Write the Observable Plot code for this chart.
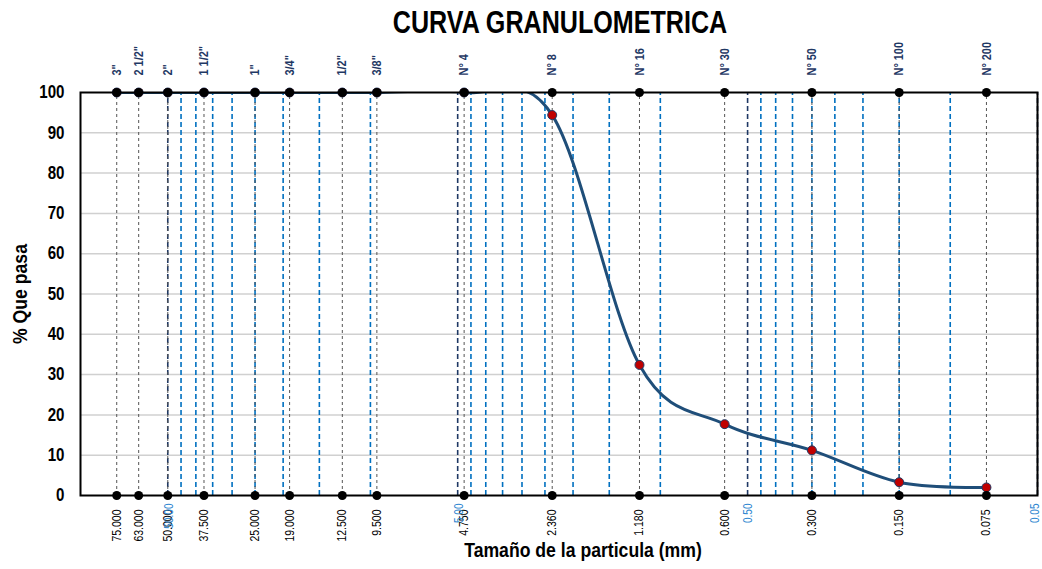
<!DOCTYPE html>
<html>
<head>
<meta charset="utf-8">
<script src="https://cdn.jsdelivr.net/npm/d3@7"></script>
<script src="https://cdn.jsdelivr.net/npm/@observablehq/plot@0.6"></script>
<style>
  html, body { margin: 0; padding: 0; background: #fff; }
  #wrap { position: relative; width: 1042px; height: 569px; }
  #title { position: absolute; left: 0; width: 1120px; top: 5px; text-align: center;
    font-family: "Liberation Sans", Arial, sans-serif;
    font-weight: bold; font-size: 31px; color: #000; transform: scaleX(0.81); transform-origin: 560px 0; }
  svg { position: absolute; left: 0; top: 0; }
</style>
</head>
<body>
<div id="wrap">
  <div id="title">CURVA GRANULOMETRICA</div>
</div>
<script>
// Sieves
const sieveNames = ['3"', '2 1/2"', '2"', '1 1/2"', '1"', '3/4"', '1/2"', '3/8"', "N° 4", "N° 8", "N° 16", "N° 30", "N° 50", "N° 100", "N° 200"];
const sieveSizes = [75, 63, 50, 37.5, 25, 19, 12.5, 9.5, 4.75, 2.36, 1.18, 0.6, 0.3, 0.15, 0.075];
const sizeLabels = ["75.000", "63.000", "50.000", "37.500", "25.000", "19.000", "12.500", "9.500", "4.750", "2.360", "1.180", "0.600", "0.300", "0.150", "0.075"];
const percentPassing = [100, 100, 100, 100, 100, 100, 100, 100, 100, 94.4, 32.4, 17.7, 11.2, 3.3, 2.0];

// Log grid
const majorValues = [50, 5, 0.5, 0.05];
const majorLabels = ["50.00", "5.00", "0.50", "0.05"];
const minorValues = [45, 40, 35, 30, 25, 20, 15, 10, 4.5, 4, 3.5, 3, 2.5, 2, 1.5, 1, 0.45, 0.4, 0.35, 0.3, 0.25, 0.2, 0.15, 0.1];
const yTicks = [0, 10, 20, 30, 40, 50, 60, 70, 80, 90, 100];
const yGrid = [10, 20, 30, 40, 50, 60, 70, 80, 90];

const xDomain = [100, 0.05];
const yDomain = [0, 100];

const sieves = sieveSizes.map((s, i) => ({size: s, name: sieveNames[i], label: sizeLabels[i], pct: percentPassing[i]}));
const majors = majorValues.map((v, i) => ({v, label: majorLabels[i]}));

const FONT = '"Liberation Sans", Arial, sans-serif';

const chart = Plot.plot({
  width: 1042,
  height: 569,
  marginLeft: 80,
  marginRight: 5,
  marginTop: 92,
  marginBottom: 74,
  style: {fontFamily: FONT, background: "transparent"},
  x: {type: "log", domain: xDomain, axis: null},
  y: {domain: yDomain, axis: null},
  marks: [
    Plot.ruleY(yGrid, {stroke: "#d0d0d0", strokeWidth: 1.5}),
    Plot.ruleX(minorValues, {y1: 0, y2: 100, stroke: "#0070C0", strokeWidth: 1.6, strokeDasharray: "5,3"}),
    Plot.ruleX(majorValues, {y1: 0, y2: 100, stroke: "#1f3864", strokeWidth: 1.6, strokeDasharray: "5,3"}),
    Plot.ruleX(sieves, {x: "size", y1: 0, y2: 100, stroke: "#555", strokeWidth: 1, strokeDasharray: "3,3"}),
    Plot.line(sieves, {x: "size", y: "pct", curve: "cardinal", tension: 0, stroke: "#1f4e79", strokeWidth: 3, clip: true}),
    Plot.dot(sieves, {x: "size", y: "pct", r: 4.5, fill: "#c00000", stroke: "#1f3864", strokeWidth: 1}),
    Plot.frame({stroke: "#000", strokeWidth: 2}),
    Plot.dot(sieves, {x: "size", y: () => 100, r: 4.5, fill: "#000"}),
    Plot.dot(sieves, {x: "size", y: () => 0, r: 4.5, fill: "#000"}),
    // top sieve names
    Plot.text(sieves, {x: "size", y: () => 100, text: "name", rotate: -90, textAnchor: "start", lineAnchor: "middle", dy: -17, fill: "#1f3864", fontWeight: "bold", fontSize: 13}),
    // bottom size labels
    Plot.text(sieves, {x: "size", y: () => 0, text: "label", rotate: -90, textAnchor: "end", lineAnchor: "middle", dy: 14, fill: "#000", fontSize: 12.5}),
    // major blue labels
    Plot.text(majors.slice(0, 3), {x: "v", y: () => 0, text: "label", rotate: -90, textAnchor: "end", lineAnchor: "middle", dx: 1, dy: 8, fill: "#2e86d0", fontSize: 12}),
    Plot.text(majors.slice(3), {x: "v", y: () => 0, text: "label", rotate: -90, textAnchor: "end", lineAnchor: "middle", dx: -2, dy: 8, fill: "#2e86d0", fontSize: 12}),
    // y tick labels
    Plot.text(yTicks, {x: () => 100, y: d => d, text: d => String(d), textAnchor: "end", dx: -16, fill: "#000", fontWeight: "bold", fontSize: 18}),
    // axis titles
    Plot.text(["% Que pasa"], {frameAnchor: "left", textAnchor: "middle", rotate: -90, dx: -60, dy: 0, fontWeight: "bold", fontSize: 21, fill: "#000"}),
    Plot.text(["Tamaño de la particula (mm)"], {frameAnchor: "bottom", textAnchor: "middle", dx: 24, dy: 61, fontWeight: "bold", fontSize: 21, fill: "#000"})
  ]
});
// condensed look (Arial Narrow style)
chart.querySelectorAll("text").forEach(t => {
  const tr = t.getAttribute("transform") || "";
  t.setAttribute("transform", tr + " scale(0.84,1)");
});
document.getElementById("wrap").appendChild(chart);
</script>
</body>
</html>
